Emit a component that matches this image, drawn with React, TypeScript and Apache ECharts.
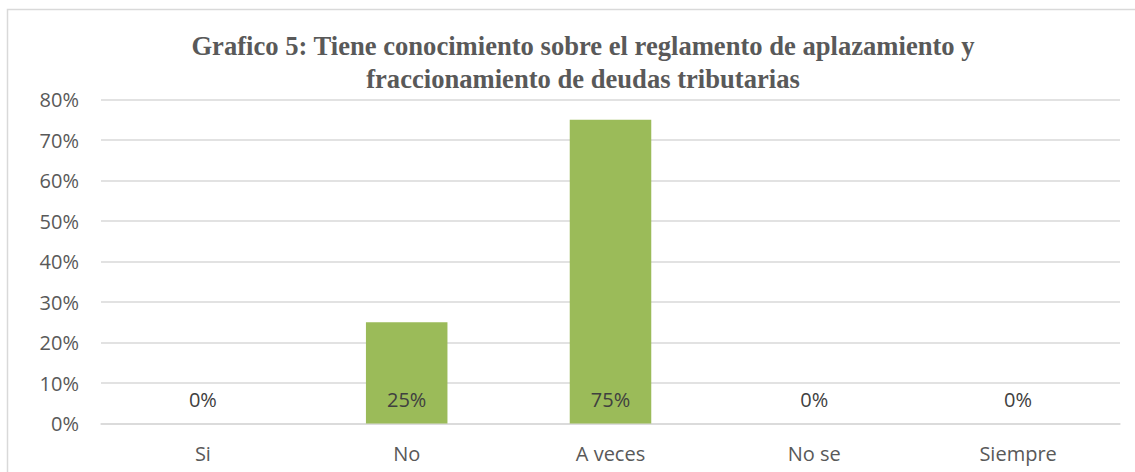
import React, { useEffect, useRef } from "react";
import * as echarts from "echarts";

const categories = ["Si", "No", "A veces", "No se", "Siempre"];
const values = [0, 25, 75, 0, 0];
const yTicks = [0, 10, 20, 30, 40, 50, 60, 70, 80];
const titleLines = [
  "Grafico 5: Tiene conocimiento sobre el reglamento de aplazamiento y",
  "fraccionamiento de deudas tributarias",
];

export default function App() {
  const ref = useRef<HTMLDivElement>(null);
  useEffect(() => {
    if (!ref.current) return;
    const chart = echarts.init(ref.current, null, { renderer: "svg" });
    const gray = "#595959";
    const font = "'Open Sans', sans-serif";
    chart.setOption({
      animation: false,
      backgroundColor: "#ffffff",
      title: {
        text: titleLines.join("\n"),
        left: 578,
        top: 24,
        textAlign: "center",
        textStyle: {
          fontFamily: "'Liberation Serif', 'Times New Roman', serif",
          fontWeight: "bold",
          fontSize: 26.6,
          color: gray,
          lineHeight: 33,
        },
      },
      graphic: [
        {
          type: "rect",
          shape: { x: 7.5, y: 9.5, width: 1300, height: 700 },
          style: { fill: "none", stroke: "#d9d9d9", lineWidth: 1.5 },
          silent: true,
          z: -1,
        },
      ],
      grid: { left: 101, right: 15, top: 99.5, bottom: 48.5, containLabel: false },
      xAxis: {
        type: "category",
        data: categories,
        axisLine: { show: true, lineStyle: { color: "#d9d9d9", width: 1.5 } },
        axisTick: { show: false },
        axisLabel: { color: gray, fontFamily: font, fontSize: 20, margin: 20 },
      },
      yAxis: {
        type: "value",
        min: yTicks[0],
        max: yTicks[yTicks.length - 1],
        interval: 10,
        axisLine: { show: false },
        axisTick: { show: false },
        axisLabel: {
          color: gray,
          fontFamily: font,
          fontSize: 20,
          margin: 22,
          formatter: (v: number) => v + "%",
        },
        splitLine: { lineStyle: { color: "#d9d9d9", width: 1.5 } },
      },
      series: [
        {
          type: "bar",
          data: values,
          barWidth: "40%",
          itemStyle: { color: "#9bbb59" },
          label: {
            show: true,
            position: "insideBottom",
            distance: 14,
            color: "#404040",
            fontFamily: font,
            fontSize: 20,
            formatter: (p: any) => p.value + "%",
          },
        },
      ],
    });
    return () => chart.dispose();
  }, []);
  return (
    <div
      ref={ref}
      style={{ position: "fixed", left: 0, top: 0, width: 1135, height: 472 }}
    />
  );
}
